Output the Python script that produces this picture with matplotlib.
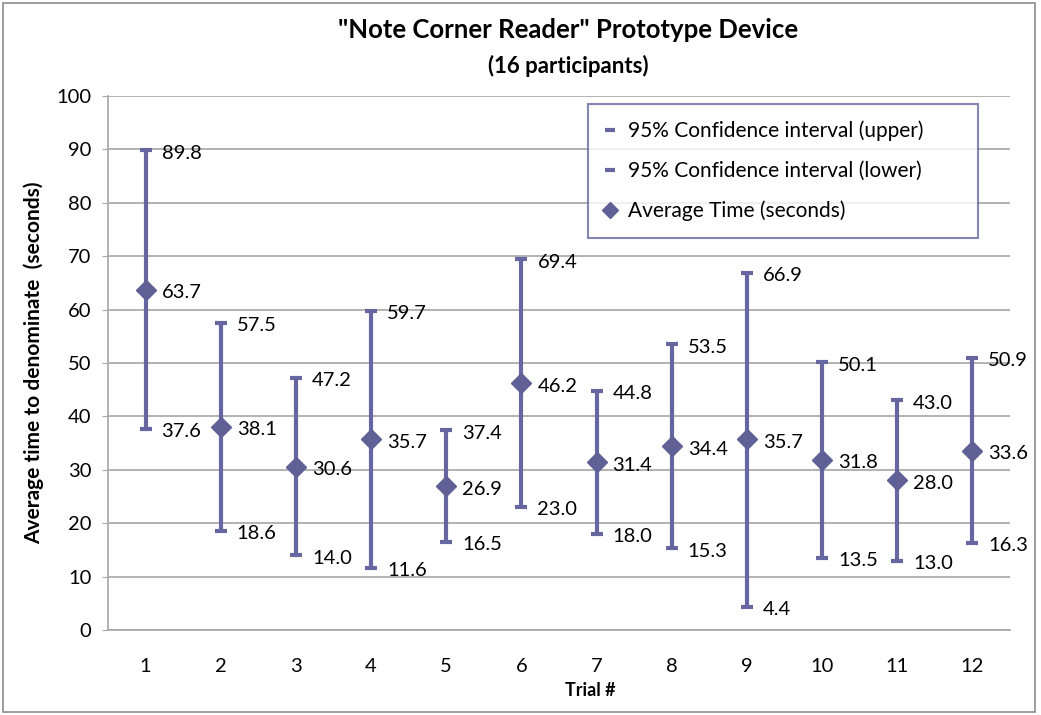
import numpy as np
import matplotlib
matplotlib.use('Agg')
import matplotlib.pyplot as plt
from matplotlib.patches import Rectangle

# datos
trials = list(range(1, 13))
upper = [89.8, 57.5, 47.2, 59.7, 37.4, 69.4, 44.8, 53.5, 66.9, 50.1, 43.0, 50.9]
lower = [37.6, 18.6, 14.0, 11.6, 16.5, 23.0, 18.0, 15.3, 4.4, 13.5, 13.0, 16.3]
average = [63.7, 38.1, 30.6, 35.7, 26.9, 46.2, 31.4, 34.4, 35.7, 31.8, 28.0, 33.6]

col = '#6667a0'
plt.rcParams['font.family'] = ['Lato', 'DejaVu Sans']

fig = plt.figure(figsize=(10.41, 7.15), dpi=100)
ax = fig.add_axes([108 / 1041, 1 - 630 / 715, (1010 - 108) / 1041, (630 - 96) / 715])

# lineas alto-bajo
ax.vlines(trials, lower, upper, color=col, lw=3, zorder=3)
ax.plot(trials, upper, ls='none', marker='_', ms=9, mew=3, color=col,
        label='95% Confidence interval (upper)', zorder=4)
ax.plot(trials, lower, ls='none', marker='_', ms=9, mew=3, color=col,
        label='95% Confidence interval (lower)', zorder=4)
ax.plot(trials, average, ls='none', marker='D', ms=10, color='#5f6096',
        label='Average Time (seconds)', zorder=5)

for serie in (upper, lower, average):
    for x, y in zip(trials, serie):
        ax.annotate('%.1f' % y, (x, y), xytext=(11.5, -2), textcoords='offset points',
                    ha='left', va='center', fontsize=14.5, color='black')

ax.set_xlim(0.5, 12.5)
ax.set_ylim(0, 100)
ax.set_yticks(np.arange(0, 101, 10))
ax.set_xticks(trials)
ax.grid(axis='y', color='#a6a6a6', lw=1.2)
ax.set_axisbelow(True)
for s in ('top', 'right'):
    ax.spines[s].set_visible(False)
for s in ('left', 'bottom'):
    ax.spines[s].set_color('#a6a6a6')
    ax.spines[s].set_linewidth(1.2)
ax.tick_params(axis='y', length=4, color='#a6a6a6', labelsize=14.5, pad=8)
ax.tick_params(axis='x', length=0, labelsize=14.5, pad=20)

ax.set_ylabel('Average time to denominate  (seconds)', fontsize=15, fontweight='bold', labelpad=9)
fig.text(590 / 1041, 1 - 691 / 715, 'Trial #', ha='center', va='center',
         fontsize=13, fontweight='bold')

fig.text(568 / 1041, 1 - 30 / 715, '"Note Corner Reader" Prototype Device', ha='center', va='center',
         fontsize=18.5, fontweight='bold')
fig.text(568 / 1041, 1 - 66 / 715, '(16 participants)', ha='center', va='center',
         fontsize=16, fontweight='bold')

# leyenda, caja ajustada al ancho del original
leg = ax.legend(loc='upper left', mode='expand',
                bbox_to_anchor=(588 / 1041, 1 - 238 / 715, 390 / 1041, 134 / 715),
                bbox_transform=fig.transFigure, fontsize=15, frameon=True, fancybox=False,
                labelspacing=0.95, handlelength=0.5, handletextpad=0.6, borderpad=0.8,
                borderaxespad=0, markerscale=0.85)
leg.get_frame().set_edgecolor('#6667a0')
leg.get_frame().set_linewidth(1.5)

# borde del grafico
fig.patches.append(Rectangle((3 / 1041, 3 / 715), 1032 / 1041, 709 / 715, transform=fig.transFigure,
                             fill=False, edgecolor='#8c8c8c', lw=1.2))

fig.savefig('out.png', dpi=100)
